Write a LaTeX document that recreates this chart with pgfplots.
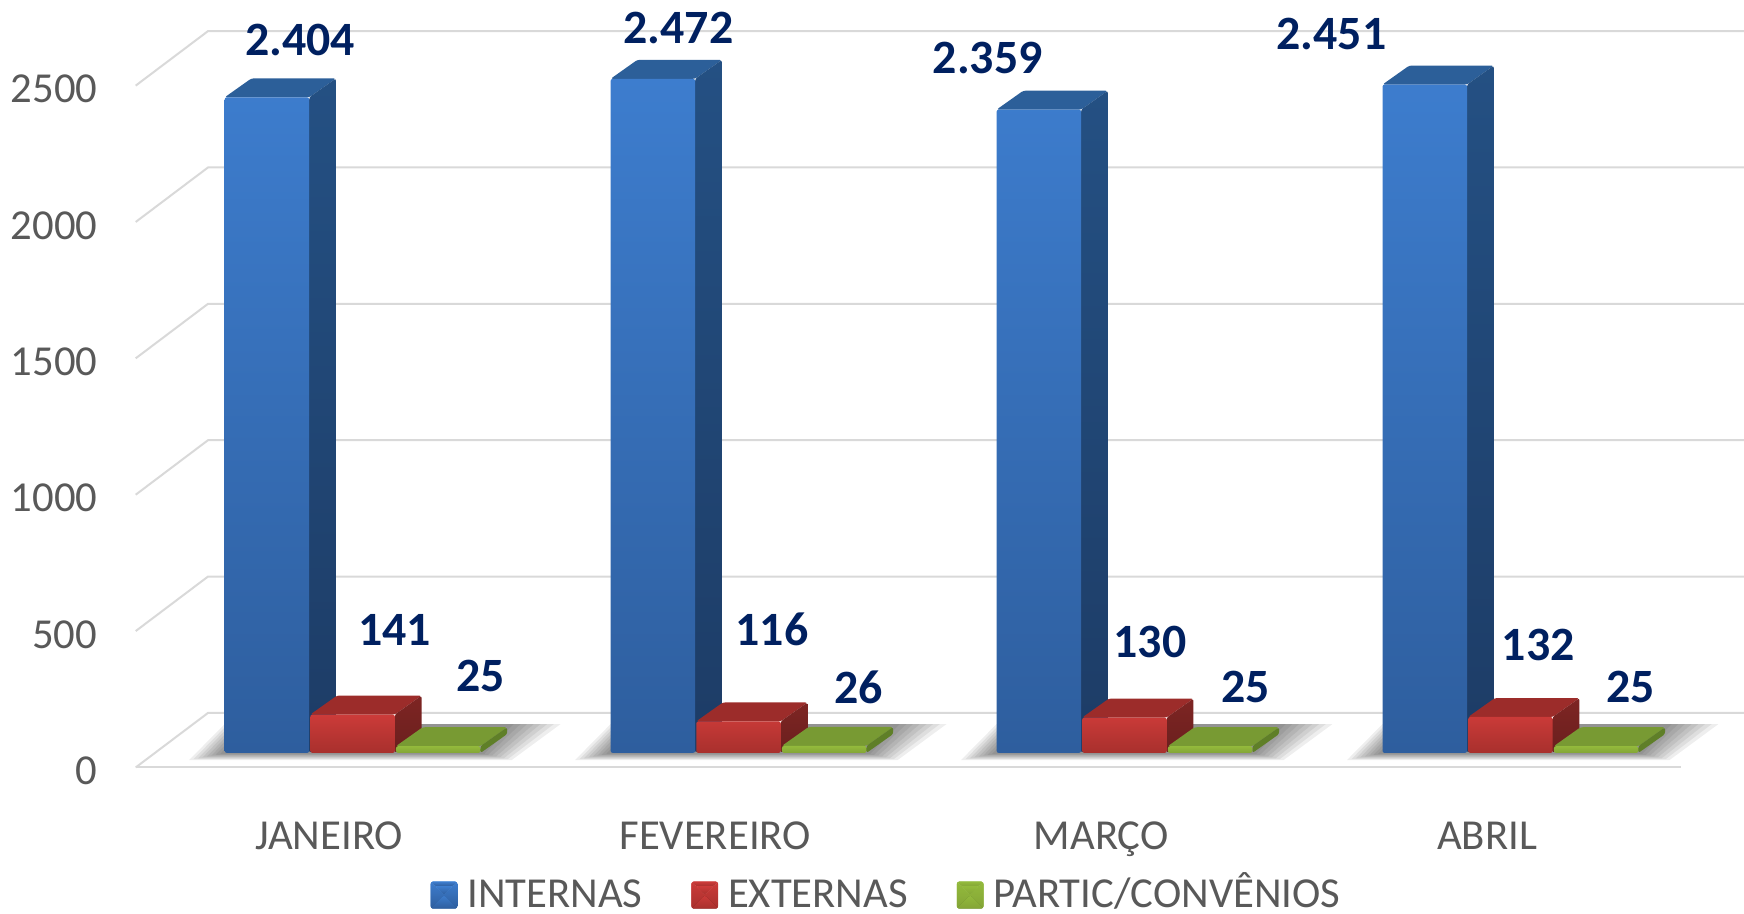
\documentclass[border=0pt]{standalone}
\usepackage{pgfplots}
\pgfplotsset{compat=1.18}
\usepackage{pgfplotstable}
\usepackage{fontspec}
\setmainfont{Carlito}
\definecolor{gridc}{HTML}{D9D9D9}
\definecolor{txt}{HTML}{595959}
\definecolor{lab}{HTML}{002060}
\definecolor{bluetop}{HTML}{3D7DCE}
\definecolor{bluebot}{HTML}{2E5E9E}
\definecolor{bluecap}{HTML}{2C5F99}
\definecolor{blueside}{HTML}{245083}
\definecolor{bluesideb}{HTML}{1D3C66}
\definecolor{redtop}{HTML}{CC3B39}
\definecolor{redbot}{HTML}{A8302D}
\definecolor{redcap}{HTML}{9C2C2A}
\definecolor{redside}{HTML}{7E2523}
\definecolor{redsideb}{HTML}{6A1F1E}
\definecolor{grntop}{HTML}{93BA3C}
\definecolor{grnbot}{HTML}{84A536}
\definecolor{grncap}{HTML}{789A33}
\definecolor{grnside}{HTML}{5F7F28}
\definecolor{legblueA}{HTML}{5596E0}
\definecolor{legblueB}{HTML}{3A78C4}
\definecolor{legblueC}{HTML}{2A5A96}
\definecolor{legblueD}{HTML}{6FB0F0}
\pgfplotstableread{
x internas externas partic
0 2404 141 25
1 2472 116 26
2 2359 130 25
3 2451 132 25
}\dados
% top and side faces of one bar: category, value, bar shift in px, colours
\newcommand\faces[6]{%
  \pgfmathsetmacro\xl{#1+(#3-38)/347}%
  \pgfmathsetmacro\xr{#1+(#3+38)/347}%
  \pgfmathsetmacro\xa{\xl+24/347}%
  \pgfmathsetmacro\xb{\xr+24/347}%
  \pgfmathsetmacro\yb{#2+17/0.2452}%
  \pgfmathsetmacro\yc{17/0.2452}%
  \addplot[forget plot,draw=none,fill=#4,yshift=13pt,rounded corners=2pt] coordinates {(\xl,#2)(\xr,#2)(\xb,\yb)(\xa,\yb)} --cycle;
  \addplot[forget plot,draw=none,top color=#5,bottom color=#6,yshift=13pt,rounded corners=2pt] coordinates {(\xr,0)(\xr,#2)(\xb,\yb)(\xb,\yc)} --cycle;
}
\newcommand\datalab[3]{\node[font=\fontsize{43}{45}\selectfont\bfseries,text=lab,inner sep=0pt,anchor=center] at (rel axis cs:#1/1568,1-#2/821) {#3};}
\newcommand\legimg[4]{%
  \begin{scope}[yshift=-15pt]
  \fill[#2] (0pt,-12pt) rectangle (24pt,12pt);
  \fill[#4] (0pt,12pt) -- (24pt,12pt) -- (20pt,8pt) -- (4pt,8pt) -- cycle;
  \fill[#1] (4pt,8pt) -- (20pt,8pt) -- (12pt,0pt) -- cycle;
  \fill[#3] (0pt,-12pt) -- (24pt,-12pt) -- (12pt,0pt) -- cycle;
  \end{scope}
}
\newcommand\shadowlayer[2]{%
  \fill[black,opacity=0.065,shift={(axis cs:#1,0)}]
    ({(-94-4*#2)*1pt},{(13-0.8*#2)*1pt}) -- ({(136+3.5*#2)*1pt},{(13-0.8*#2)*1pt}) --
    ({(160+6*#2)*1pt},39pt) -- ({(-70-3*#2)*1pt},39pt) -- cycle;
}
\newcommand\shadowgroup[1]{%
  \shadowlayer{#1}{1}\shadowlayer{#1}{2}\shadowlayer{#1}{3}\shadowlayer{#1}{4}%
  \shadowlayer{#1}{5}\shadowlayer{#1}{6}\shadowlayer{#1}{7}\shadowlayer{#1}{8}%
}
\begin{document}
\begin{tikzpicture}
\useasboundingbox (0,0) rectangle (1568pt,821pt);
\begin{axis}[
  at={(0,0)},anchor=south west,
  scale only axis,width=1568pt,height=821pt,
  xmin=-0.85303,xmax=3.66571,
  ymin=-534.3,ymax=2814,
  clip=false,
  axis line style={draw=none},
  major tick length=0pt,
  xtick={0,1,2,3},
  xticklabels={JANEIRO,FEVEREIRO,MARÇO,ABRIL},
  ytick={0,500,1000,1500,2000,2500},
  /pgf/number format/assume math mode=true,
  /pgf/number format/1000 sep={},
  tick label style={font=\fontsize{38.4}{41}\selectfont,text=txt},
  xticklabel style={anchor=center,yshift=66pt,text height=26pt,text depth=8pt},
  yticklabel style={anchor=east,xshift=91pt,yshift=-3pt},
  legend style={at={(rel axis cs:387/1568,1-803/821)},anchor=west,draw=none,fill=none,
    font=\fontsize{38.4}{40}\selectfont,text=txt,inner sep=0pt,
    legend columns=-1,
    /tikz/every even column/.append style={column sep=44pt},
    /tikz/every odd column/.append style={column sep=9pt},
    nodes={inner sep=0pt,text height=27pt,text depth=0pt}},
  legend cell align=left,
]
% gridlines, drawn on the floor and back wall
\pgfplotsinvokeforeach{500,1000,1500,2000,2500}{
  \draw[gridc,line width=1.8pt] (axis cs:-0.50144,#1) -- ++(65pt,49pt) -- ++(1381pt,0pt);
}
\draw[gridc,line width=1.8pt] (axis cs:-0.50144,0) -- ++(65pt,49pt) -- ++(1381pt,0pt);
\draw[gridc,line width=1.8pt] (axis cs:-0.50144,0) -- ++(1389pt,0pt);
% soft shadows on the floor, built from nested translucent layers
\shadowgroup{0}\shadowgroup{1}\shadowgroup{2}\shadowgroup{3}
% INTERNAS
\faces{0}{2404}{-56}{bluecap}{blueside}{bluesideb}
\faces{1}{2472}{-56}{bluecap}{blueside}{bluesideb}
\faces{2}{2359}{-56}{bluecap}{blueside}{bluesideb}
\faces{3}{2451}{-56}{bluecap}{blueside}{bluesideb}
\addplot[ybar,bar width=76pt,bar shift=-56pt,draw=none,rounded corners=2pt,top color=bluetop,bottom color=bluebot,yshift=13pt,
  legend image code/.code={\legimg{legblueA}{legblueB}{legblueC}{legblueD}}]
  table[x=x,y=internas] {\dados};
\addlegendentry{INTERNAS}
% EXTERNAS
\faces{0}{141}{21}{redcap}{redside}{redsideb}
\faces{1}{116}{21}{redcap}{redside}{redsideb}
\faces{2}{130}{21}{redcap}{redside}{redsideb}
\faces{3}{132}{21}{redcap}{redside}{redsideb}
\addplot[ybar,bar width=76pt,bar shift=21pt,draw=none,rounded corners=2pt,top color=redtop,bottom color=redbot,yshift=13pt,
  legend image code/.code={\legimg{redtop!80!white}{redtop}{redsideb}{redtop!60!white}}]
  table[x=x,y=externas] {\dados};
\addlegendentry{EXTERNAS}
% PARTIC/CONVENIOS
\faces{0}{25}{98}{grncap}{grnside}{grnside}
\faces{1}{26}{98}{grncap}{grnside}{grnside}
\faces{2}{25}{98}{grncap}{grnside}{grnside}
\faces{3}{25}{98}{grncap}{grnside}{grnside}
\addplot[ybar,bar width=76pt,bar shift=98pt,draw=none,rounded corners=2pt,top color=grntop,bottom color=grnbot,yshift=13pt,
  legend image code/.code={\legimg{grntop!85!white}{grntop}{grnside}{grntop!70!white}}]
  table[x=x,y=partic] {\dados};
\addlegendentry{PARTIC/CONVÊNIOS}
% data labels
\datalab{270}{36}{2.404}
\datalab{610}{25}{2.472}
\datalab{888}{52}{2.359}
\datalab{1197}{31}{2.451}
\datalab{355}{566}{141}
\datalab{694}{566}{116}
\datalab{1034}{577}{130}
\datalab{1383}{580}{132}
\datalab{432}{608}{25}
\datalab{772}{618}{26}
\datalab{1120}{618}{25}
\datalab{1466}{618}{25}
\end{axis}
\end{tikzpicture}
\end{document}
